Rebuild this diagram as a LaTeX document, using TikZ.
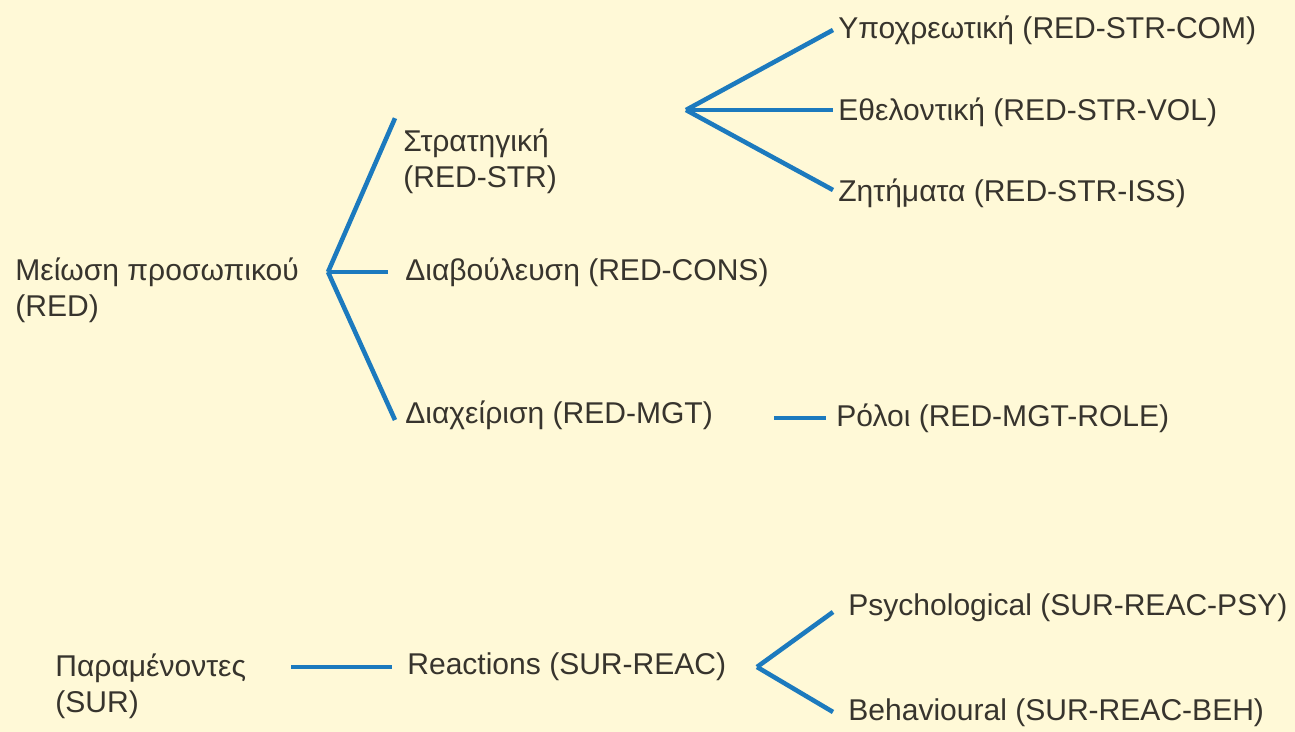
\documentclass[tikz,border=0pt]{standalone}
\usepackage{fontspec}
\setmainfont{Liberation Sans}
\usepackage{tikz}
\definecolor{paper}{RGB}{255,249,215}
\definecolor{branchblue}{RGB}{28,122,190}
\definecolor{ink}{RGB}{55,52,45}

\begin{document}
\begin{tikzpicture}[x=0.02cm,y=-0.02cm,
  lbl/.style={anchor=west,inner sep=0pt,text=ink,align=left,font=\fontsize{17.1}{20.5}\selectfont},
  branch/.style={draw=branchblue,line width=2.6pt}]
\fill[paper] (0,0) rectangle (1295,732);
\node[lbl] (red) at (15,290) {Μείωση προσωπικού\\(RED)};
\node[lbl] (str) at (403,161) {Στρατηγική\\(RED-STR)};
\node[lbl] (cons) at (405,272) {Διαβούλευση (RED-CONS)};
\node[lbl] (mgt) at (405,415) {Διαχείριση (RED-MGT)};
\node[lbl] (com) at (838,30) {Υποχρεωτική (RED-STR-COM)};
\node[lbl] (vol) at (838,112) {Εθελοντική (RED-STR-VOL)};
\node[lbl] (iss) at (838,193) {Ζητήματα (RED-STR-ISS)};
\node[lbl] (role) at (836,418) {Ρόλοι (RED-MGT-ROLE)};
\node[lbl] (sur) at (55,686) {Παραμένοντες\\(SUR)};
\node[lbl] (reac) at (407,667) {Reactions (SUR-REAC)};
\node[lbl] (psy) at (848,608) {Psychological (SUR-REAC-PSY)};
\node[lbl] (beh) at (848,713) {Behavioural (SUR-REAC-BEH)};
\coordinate (redfork) at (328,272);
\coordinate (strfork) at (686,110);
\coordinate (reacfork) at (757,667);
\draw[branch] (redfork) -- ([shift={(-8,-10)}]str.north west);
\draw[branch] (redfork) -- ([shift={(-17,0)}]cons.west);
\draw[branch] (redfork) -- ([shift={(-10,5)}]mgt.west);
\draw[branch] (strfork) -- ([shift={(-5,0)}]com.west);
\draw[branch] (strfork) -- ([shift={(-5,-2)}]vol.west);
\draw[branch] (strfork) -- ([shift={(-5,-3)}]iss.west);
\draw[branch] ([shift={(61,3)}]mgt.east) -- ([shift={(-10,0)}]role.west);
\draw[branch] ([shift={(45,-19)}]sur.east) -- ([shift={(-15,0)}]reac.west);
\draw[branch] (reacfork) -- ([shift={(-15,4)}]psy.west);
\draw[branch] (reacfork) -- ([shift={(-15,-1)}]beh.west);
\end{tikzpicture}
\end{document}
